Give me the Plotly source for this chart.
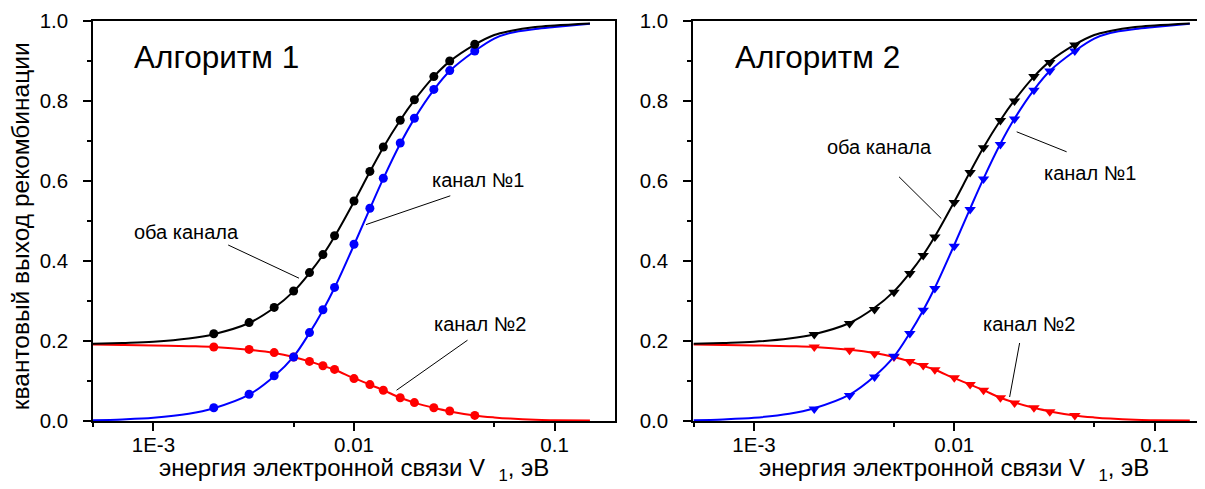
import math
import plotly.graph_objects as go

# ---------------- data ----------------
# marker positions (энергия V1, эВ)
x_pts = [0.002, 0.003, 0.004, 0.005, 0.006, 0.007, 0.008, 0.01, 0.012, 0.014,
         0.017, 0.02, 0.025, 0.03, 0.04]

# Алгоритм 1 (circles)
a1_both = [0.218, 0.246, 0.284, 0.325, 0.371, 0.416, 0.463, 0.550, 0.624, 0.685,
           0.752, 0.803, 0.861, 0.900, 0.942]
a1_ch1 = [0.033, 0.067, 0.113, 0.160, 0.221, 0.278, 0.334, 0.442, 0.532, 0.607,
          0.695, 0.757, 0.829, 0.876, 0.925]
a1_ch2 = [0.185, 0.179, 0.171, 0.160, 0.149, 0.138, 0.129, 0.106, 0.091, 0.077,
          0.058, 0.046, 0.033, 0.025, 0.014]

# Алгоритм 2 (triangles)
a2_both = [0.216, 0.244, 0.279, 0.322, 0.369, 0.414, 0.460, 0.546, 0.621, 0.683,
           0.751, 0.800, 0.861, 0.896, 0.940]
a2_ch1 = [0.030, 0.064, 0.110, 0.162, 0.219, 0.277, 0.331, 0.437, 0.529, 0.605,
          0.691, 0.755, 0.827, 0.875, 0.925]
a2_ch2 = [0.185, 0.177, 0.168, 0.160, 0.149, 0.139, 0.128, 0.108, 0.091, 0.077,
          0.058, 0.045, 0.033, 0.023, 0.014]

# smooth curves
x_curve = [0.0005, 0.0007, 0.001, 0.0015, 0.002, 0.003, 0.004, 0.005, 0.006, 0.007,
           0.008, 0.01, 0.012, 0.014, 0.017, 0.02, 0.025, 0.03, 0.04, 0.05, 0.06,
           0.08, 0.1, 0.15]
c_both = [0.193, 0.195, 0.198, 0.206, 0.217, 0.245, 0.283, 0.324, 0.370, 0.415,
          0.461, 0.548, 0.623, 0.684, 0.752, 0.802, 0.861, 0.899, 0.941, 0.965, 0.975,
          0.985, 0.989, 0.994]
c_ch1 = [0.002, 0.004, 0.008, 0.018, 0.032, 0.066, 0.112, 0.161, 0.220, 0.277,
         0.333, 0.440, 0.531, 0.606, 0.693, 0.756, 0.828, 0.875, 0.925, 0.956, 0.970,
         0.980, 0.985, 0.993]
c_ch2 = [0.191, 0.190, 0.189, 0.187, 0.185, 0.178, 0.170, 0.160, 0.149, 0.138,
         0.128, 0.107, 0.091, 0.077, 0.058, 0.046, 0.033, 0.024, 0.014, 0.009, 0.006,
         0.003, 0.002, 0.001]

# tick labels
x_tickvals = [0.001, 0.01, 0.1]
x_ticktext = ["1E-3", "0.01", "0.1"]
x_minor = [0.0005, 0.005, 0.05]
y_tickvals = [0.0, 0.2, 0.4, 0.6, 0.8, 1.0]
y_ticktext = ["0.0", "0.2", "0.4", "0.6", "0.8", "1.0"]

panel_titles = ["Алгоритм 1", "Алгоритм 2"]
label_both = "оба канала"
label_ch1 = "канал №1"
label_ch2 = "канал №2"
x_title = "энергия электронной связи V&nbsp;&nbsp;<sub>1</sub>, эВ"
y_title = "квантовый выход рекомбинации"

# label positions (x in eV, y in yield) and leader lines
p1_label_pos = {"both": (0.00147, 0.473), "ch1": (0.0413, 0.602), "ch2": (0.0423, 0.2435)}
p1_leaders = {"both": ([0.00236, 0.00532], [0.440, 0.357]),
              "ch1": ([0.0302, 0.01148], [0.563, 0.491]),
              "ch2": ([0.0368, 0.0163], [0.202, 0.077])}
p2_label_pos = {"both": (0.00421, 0.6856), "ch1": (0.0476, 0.619), "ch2": (0.0236, 0.2435)}
p2_leaders = {"both": ([0.0053, 0.00862], [0.6105, 0.506]),
              "ch1": ([0.0205, 0.0364], [0.723, 0.673]),
              "ch2": ([0.0212, 0.0189], [0.195, 0.060])}
title_pos = (0.000785, 0.91)

# ---------------- figure ----------------
FONT = "Liberation Sans, Arial, sans-serif"
BLACK, BLUE, RED = "#000000", "#0000FF", "#FF0000"
W, H = 1197, 481   # page has an 8px body margin

fig = go.Figure()

panels = [
    ("x", "y", "circle", a1_both, a1_ch1, a1_ch2, p1_label_pos, p1_leaders, 9),
    ("x2", "y2", "triangle-down", a2_both, a2_ch1, a2_ch2, p2_label_pos, p2_leaders, 10),
]

for xr, yr, sym, both, ch1, ch2, lpos, leaders, msize in panels:
    for ys, col in ((c_ch2, RED), (c_ch1, BLUE), (c_both, BLACK)):
        fig.add_trace(go.Scatter(x=x_curve, y=ys, mode="lines", xaxis=xr, yaxis=yr,
                                 line=dict(color=col, width=2, shape="spline", smoothing=1),
                                 showlegend=False, hoverinfo="skip"))
    for ys, col in ((ch2, RED), (ch1, BLUE), (both, BLACK)):
        fig.add_trace(go.Scatter(x=x_pts, y=ys, mode="markers", xaxis=xr, yaxis=yr,
                                 marker=dict(symbol=sym, size=msize, color=col,
                                             line=dict(width=0)),
                                 showlegend=False))
    for key in ("both", "ch1", "ch2"):
        lx, ly = leaders[key]
        fig.add_trace(go.Scatter(x=lx, y=ly, mode="lines", xaxis=xr, yaxis=yr,
                                 line=dict(color=BLACK, width=1), showlegend=False,
                                 hoverinfo="skip"))

annotations = []
for i, (xr, yr) in enumerate((("x", "y"), ("x2", "y2"))):
    lpos = p1_label_pos if i == 0 else p2_label_pos
    for key, txt in (("both", label_both), ("ch1", label_ch1), ("ch2", label_ch2)):
        lx, ly = lpos[key]
        annotations.append(dict(x=math.log10(lx), y=ly, xref=xr, yref=yr, text=txt,
                                showarrow=False, xanchor="center", yanchor="middle",
                                font=dict(family=FONT, size=20, color=BLACK)))
    annotations.append(dict(x=math.log10(title_pos[0]), y=title_pos[1], xref=xr, yref=yr,
                            text=panel_titles[i], showarrow=False, xanchor="left",
                            yanchor="middle", font=dict(family=FONT, size=31.5, color=BLACK)))
    annotations.append(dict(x=math.log10(0.01), y=-0.12, xref=xr, yref="paper",
                            text=x_title, showarrow=False, xanchor="center",
                            yanchor="middle", font=dict(family=FONT, size=24, color=BLACK)))

annotations.append(dict(x=12 / W, y=0.487, xref="paper", yref="paper", text=y_title,
                        textangle=-90, showarrow=False, xanchor="center", yanchor="middle",
                        font=dict(family=FONT, size=24.5, color=BLACK)))

xaxis_common = dict(type="log", tickmode="array", tickvals=x_tickvals, ticktext=x_ticktext,
                    ticks="outside", ticklen=8, tickwidth=1.5, tickcolor=BLACK,
                    showline=True, linecolor=BLACK, linewidth=1.5, mirror=True,
                    showgrid=False, zeroline=False, ticklabelstandoff=-3,
                    tickfont=dict(family=FONT, size=20.5, color=BLACK),
                    minor=dict(tickmode="array", tickvals=x_minor, ticks="outside",
                               ticklen=4, tickwidth=1.5, tickcolor=BLACK, showgrid=False))
yaxis_common = dict(range=[0, 1.0], tickmode="array", tickvals=y_tickvals,
                    ticktext=y_ticktext, ticks="outside", ticklen=8, tickwidth=1.5,
                    tickcolor=BLACK, showline=True, linecolor=BLACK, linewidth=1.5,
                    showgrid=False, zeroline=False, ticklabelstandoff=11,
                    tickfont=dict(family=FONT, size=20.5, color=BLACK),
                    minor=dict(dtick=0.1, ticks="outside", ticklen=4, tickwidth=1.5,
                               tickcolor=BLACK, showgrid=False))

fig.update_layout(
    width=W, height=H,
    margin=dict(l=0, r=0, t=13, b=68),
    paper_bgcolor="white", plot_bgcolor="white",
    xaxis=dict(xaxis_common, domain=[85 / W, 607 / W],
               range=[math.log10(0.0005), math.log10(0.2)], anchor="y"),
    yaxis=dict(yaxis_common, anchor="x", mirror=True),
    xaxis2=dict(xaxis_common, domain=[685 / W, 1.0],
                range=[-3.3045, -0.748], anchor="y2"),
    yaxis2=dict(yaxis_common, anchor="x2", mirror=False),
    annotations=annotations,
    showlegend=False,
)

fig.write_html("out.html")
